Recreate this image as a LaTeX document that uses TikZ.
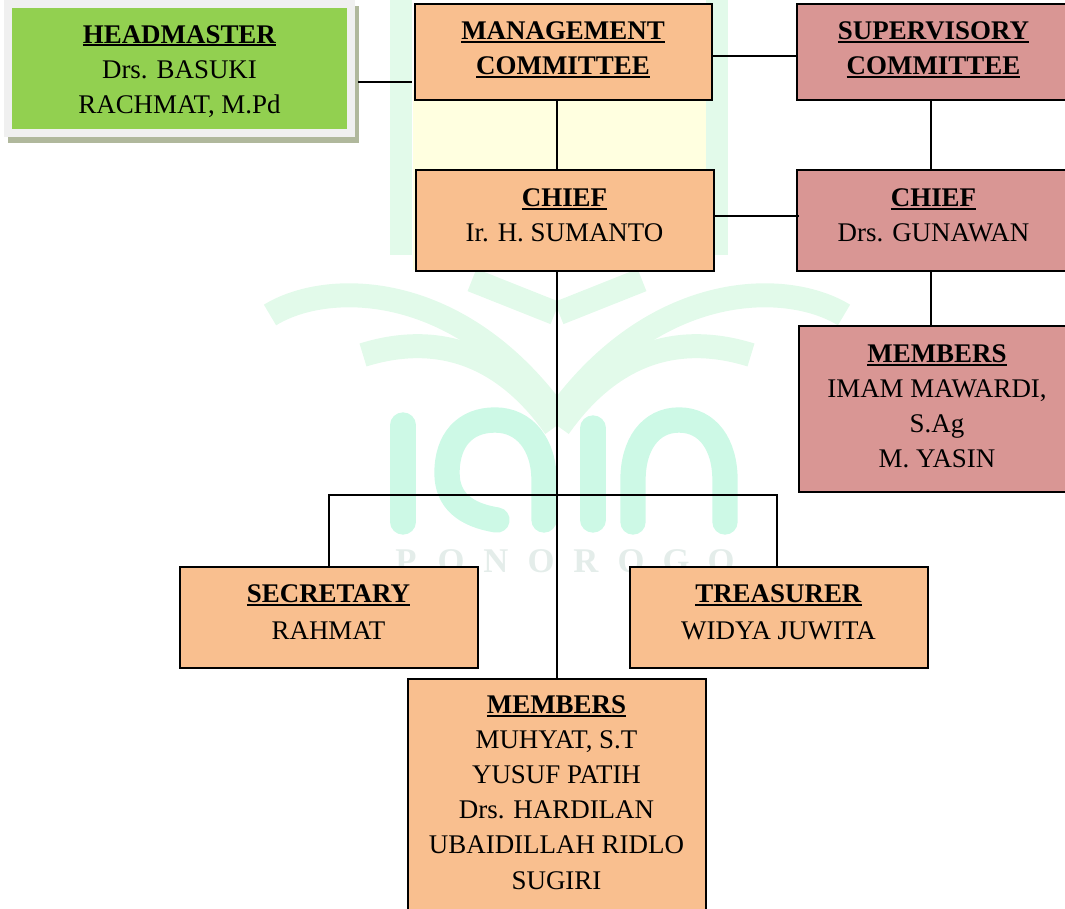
\documentclass[tikz,border=0pt]{standalone}
\usepackage{fontspec}
\setmainfont{Liberation Serif}
\usetikzlibrary{shadows}
\definecolor{peach}{HTML}{F9BF8F}
\definecolor{rose}{HTML}{D99694}
\definecolor{leafgreen}{HTML}{92D050}
\definecolor{framegray}{HTML}{F0F0F0}
\definecolor{shadowgray}{HTML}{B0B89C}
\definecolor{mint}{HTML}{CDF9E6}
\definecolor{palemint}{HTML}{E2FAEA}
\definecolor{paleyellow}{HTML}{FFFFE0}
\definecolor{palegray}{HTML}{E4EDEA}
\newcommand{\boxhead}[1]{\setbox0\hbox{\textbf{#1}}\rlap{\rule[-2.6pt]{\wd0}{1.5pt}}\box0}
\tikzset{
    orgbox/.style 2 args={draw=black, line width=1.5pt, align=center, inner sep=0pt,
        minimum width=#1*0.75pt, minimum height=#2*0.75pt,
        font=\fontsize{20.2}{26.3}\selectfont},
    peachbox/.style 2 args={orgbox={#1}{#2}, fill=peach},
    rosebox/.style 2 args={orgbox={#1}{#2}, fill=rose},
    wire/.style={draw=black, line width=1.5pt},
    wmstroke/.style={draw=mint, line width=19pt, line cap=round},
    wmleaf/.style={draw=palemint, line width=18pt},
    wmletter/.style={text=palegray, font=\fontsize{26}{26}\selectfont\bfseries, inner sep=0pt, anchor=base}
}
\begin{document}
\begin{tikzpicture}[x=0.75pt, y=-0.75pt]
                \useasboundingbox (0,0) rectangle (1065,909);
                \clip (0,0) rectangle (1065,909);
                % watermark
                \fill[paleyellow] (413,90) rectangle (708,270);
                \draw[draw=palemint, line width=17pt] (401,0) -- (401,255);
                \draw[draw=palemint, line width=17pt] (717,0) -- (717,255);
                \foreach \s in {1,-1} {
                    \begin{scope}[xshift=557*0.75pt, xscale=\s]
                        \draw[wmleaf] (-287,315) .. controls (-230,280) and (-100,280) .. (-2,413);
                        \draw[wmleaf] (-194,355) .. controls (-130,335) and (-60,345) .. (-2,427);
                        \draw[wmleaf] (-85,280) -- (-2,313);
                    \end{scope}
                }
                \draw[wmstroke] (403,425) -- (403,522);
                \draw[wmstroke] (497,520) .. controls (465,515) and (447,500) .. (447,473)
                    .. controls (447,440) and (465,420) .. (495,420)
                    .. controls (525,420) and (544,445) .. (544,480) -- (544,520);
                \draw[wmstroke] (593,428) -- (593,520);
                \draw[wmstroke] (633,522) -- (633,480) .. controls (633,445) and (650,420) .. (679,420)
                    .. controls (708,420) and (725,445) .. (725,480) -- (725,522);
                \foreach \ltr [count=\n] in {P,O,N,O,R,O,G,O} {
                    \node[wmletter] (wm\n) at (361+45*\n,572) {\ltr};
                }
                % boxes
                \node[orgbox={343}{129}, draw=framegray, line width=6pt, fill=leafgreen,
                    drop shadow={shadow xshift=3pt, shadow yshift=-4.5pt, draw=shadowgray, fill=shadowgray, opacity=1}]
                    (headmaster) at (179.5,68.5) {\rule{0pt}{17.5pt}\boxhead{HEADMASTER}\\Drs. BASUKI\\RACHMAT, M.Pd};
                \node[peachbox={297}{96}] (management) at (563,52.5) {\boxhead{MANAGEMENT}\\\boxhead{COMMITTEE}\\[-19.5pt]\mbox{}};
                \node[peachbox={298}{101}] (chief) at (564.5,221) {\boxhead{CHIEF}\\Ir. H. SUMANTO\\[-17pt]\mbox{}};
                \node[rosebox={274}{96}] (supervisory) at (933.5,52.5) {\boxhead{SUPERVISORY}\\\boxhead{COMMITTEE}\\[-19.5pt]\mbox{}};
                \node[rosebox={274}{101}] (chiefsup) at (933.5,221) {\boxhead{CHIEF}\\Drs. GUNAWAN\\[-17pt]\mbox{}};
                \node[rosebox={277}{166}] (memberssup) at (937,409) {\boxhead{MEMBERS}\\IMAM MAWARDI,\\S.Ag\\M. YASIN\\[-22.5pt]\mbox{}};
                \node[peachbox={298}{101}] (secretary) at (328.5,617.5) {\boxhead{SECRETARY}\\[1.5pt]RAHMAT\\[-18.5pt]\mbox{}};
                \node[peachbox={298}{101}] (treasurer) at (778.5,617.5) {\boxhead{TREASURER}\\[1.5pt]WIDYA JUWITA\\[-18.5pt]\mbox{}};
                \node[peachbox={298}{241}] (members) at (556.5,799) {\boxhead{MEMBERS}\\MUHYAT, S.T\\YUSUF PATIH\\Drs. HARDILAN\\UBAIDILLAH RIDLO\\SUGIRI\\[-16.5pt]\mbox{}};
                % connectors
                \coordinate (trunk) at (557,495);
                \coordinate (sidetap) at (931,240);
                \coordinate (headtap) at (358,82);
                \coordinate (supertap) at (760,56);
                \coordinate (chieftap) at (760,216);
                \draw[wire] (trunk |- management.south) -- (trunk |- chief.north);
                \draw[wire] (trunk |- chief.south) -- (trunk |- members.north);
                \draw[wire] (secretary.north) |- (trunk) -| ([xshift=-1pt]treasurer.north);
                \draw[wire] (sidetap |- supervisory.south) -- (sidetap |- chiefsup.north);
                \draw[wire] (sidetap |- chiefsup.south) -- (sidetap |- memberssup.north);
                \draw[wire] (headtap) -- ([xshift=-1.5pt]management.west |- headtap);
                \draw[wire] (management.east |- supertap) -- (supervisory.west |- supertap);
                \draw[wire] (chief.east |- chieftap) -- ([xshift=2.5pt]chiefsup.west |- chieftap);
            \end{tikzpicture}
\end{document}
